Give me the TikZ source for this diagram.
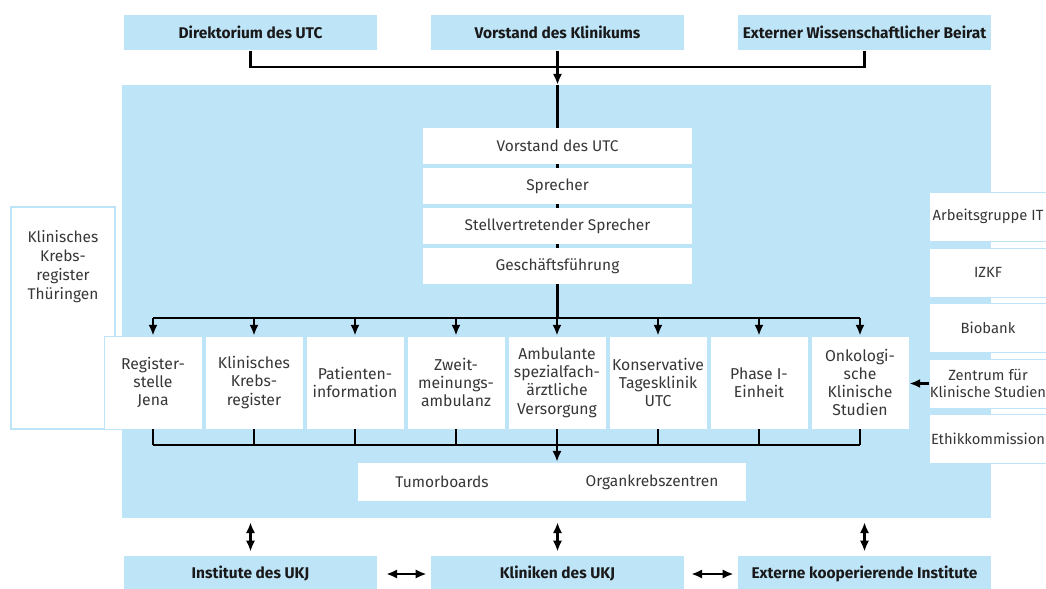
\documentclass[tikz,border=0pt]{standalone}
\usepackage{fontspec}
\setmainfont{Fira Sans}
\usetikzlibrary{arrows.meta,backgrounds,positioning}
\definecolor{utcblue}{RGB}{190,228,248}
\definecolor{utctext}{RGB}{55,55,55}
\newcommand{\pxu}{0.025cm}

\begin{document}
\begin{tikzpicture}[x=\pxu, y=-\pxu, >={Latex[length=2.7mm,width=2.3mm]},
   line width=1.8pt,
   head/.style={fill=utcblue, inner sep=0pt, minimum width=253*\pxu, minimum height=35*\pxu,
                font=\bfseries\fontsize{11}{12}\selectfont, text=black!90},
   stack/.style={fill=white, inner sep=0pt, minimum width=269*\pxu, minimum height=36*\pxu,
                 font=\fontsize{11}{12}\selectfont, text=utctext},
   unit/.style={fill=white, draw=utcblue, line width=0.6pt, inner sep=0pt, align=center,
                minimum width=98*\pxu, minimum height=93*\pxu,
                font=\fontsize{11.2}{13}\selectfont, text=utctext},
   side/.style={fill=white, draw=utcblue, line width=0.6pt, inner sep=0pt, align=center,
                minimum width=117*\pxu, minimum height=49*\pxu,
                font=\fontsize{10.5}{12.5}\selectfont, text=utctext},
   plain/.style={inner sep=0pt, align=center, font=\fontsize{11}{13.5}\selectfont, text=utctext}]

  \useasboundingbox (0,0) rectangle (1046,588);
  \clip (0,0) rectangle (1046,588);

  % big UTC area
  \begin{scope}[on background layer]
    \node[fill=utcblue, inner sep=0pt, minimum width=869*\pxu, minimum height=433*\pxu] (utc) at (556.5,301.5) {};
  \end{scope}

  % top row
  \node[head] (dir) at (250.5,32.5) {Direktorium des UTC};
  \node[head] (vk)  at (557.5,32.5) {Vorstand des Klinikums};
  \node[head] (wb)  at (864.5,32.5) {Externer Wissenschaftlicher Beirat};
  \coordinate (top) at (557.5,67);

  % leadership stack
  \node[stack] (vorstand) at (557.5,146) {Vorstand des UTC};
  \node[stack] (sprecher) at (557.5,186) {Sprecher};
  \node[stack] (stv)      at (557.5,226) {Stellvertretender Sprecher};
  \node[stack] (gf)       at (557.5,266) {Geschäftsführung};
  \coordinate (distr) at (557.5,318);
  \coordinate (coll)  at (557.5,445);

  % left register
  \node[fill=white, draw=utcblue, line width=0.9pt, inner sep=0pt, minimum width=104*\pxu, minimum height=222*\pxu] (kkrt) at (63,318) {};
  \node[plain, anchor=north] (kkrtlbl) at ([yshift=-0.58cm]kkrt.north) {Klinisches\\Krebs-\\register\\Thüringen};

  % units
  \node[unit] (rsj) at (153,382.5) {Register-\\stelle\\Jena};
  \node[unit] (kkr) at (254,382.5) {Klinisches\\Krebs-\\register};
  \node[unit] (pi)  at (355,382.5) {Patienten-\\information};
  \node[unit] (zma) at (456,382.5) {Zweit-\\meinungs-\\ambulanz};
  \node[unit] (asv) at (557,382.5) {Ambulante\\spezialfach-\\ärztliche\\Versorgung};
  \node[unit] (ktk) at (658,382.5) {Konservative\\Tagesklinik\\UTC};
  \node[unit] (ph1) at (759,382.5) {Phase I-\\Einheit};
  \node[unit] (oks) at (860,382.5) {Onkologi-\\sche\\Klinische\\Studien};

  % tumorboards
  \node[fill=white, inner sep=0pt, minimum width=388*\pxu, minimum height=38*\pxu] (tumor) at (552,482) {};
  \node[plain] (tb) at ([xshift=-2.75cm]tumor.center) {Tumorboards};
  \node[plain] (okz) at ([xshift=2.5cm]tumor.center) {Organkrebszentren};

  % right column
  \node[side] (agit)  at (988,216.5) {Arbeitsgruppe IT};
  \node[side] (izkf)  at (988,272.5) {IZKF};
  \node[side] (bio)   at (988,327.5) {Biobank};
  \node[side] (zks)   at (988,383.5) {Zentrum für\\Klinische Studien};
  \node[side] (ethik) at (988,438.5) {Ethikkommission};

  % bottom row
  \node[head, minimum height=36*\pxu] (inst) at (250.5,574) {Institute des UKJ};
  \node[head, minimum height=36*\pxu] (klin) at (557.5,574) {Kliniken des UKJ};
  \node[head, minimum height=36*\pxu] (ext)  at (864.5,574) {Externe kooperierende Institute};

  % connectors
  \draw (dir.south) |- (top) -| (wb.south);
  \draw[->] (vk.south) -- (vk.south |- utc.north);
  \begin{scope}[on background layer]
    \draw[line width=1.8pt] (vk.south |- utc.north) -- (distr);     % line behind the stack
  \end{scope}
  \draw (rsj.north |- distr) -- (oks.north |- distr);
  \foreach \u in {rsj,kkr,pi,zma,asv,ktk,ph1,oks}
    \draw[->] (\u.north |- distr) -- (\u.north);
  \draw (rsj.south |- coll) -- (oks.south |- coll);
  \foreach \u in {rsj,kkr,pi,zma,asv,ktk,ph1,oks}
    \draw (\u.south) -- (\u.south |- coll);
  \draw[->] (asv.south |- coll) -- (asv.south |- tumor.north);
  \draw[->] (zks.west) -- (zks.west -| oks.east);

  \foreach \b in {inst,klin,ext}
    \draw[<->, shorten <=0.1cm, shorten >=0.08cm] (\b.north |- utc.south) -- (\b.north);
  \draw[<->, shorten <=0.2cm, shorten >=0.08cm] (inst.east) -- (klin.west);
  \draw[<->, shorten <=0.15cm, shorten >=0.08cm] (klin.east) -- (ext.west);

\end{tikzpicture}
\end{document}
